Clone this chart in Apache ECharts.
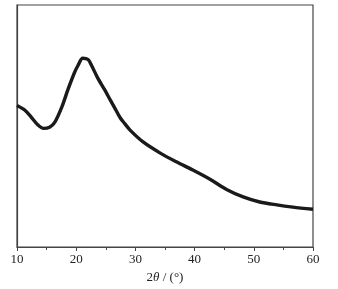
<!DOCTYPE html>
<html><head><meta charset="utf-8">
<script src="https://cdn.jsdelivr.net/npm/echarts@6/dist/echarts.min.js"></script>
<style>html,body{margin:0;padding:0;background:#fff}#c{width:338px;height:289px}</style>
</head><body><div id="c"></div>
<script>
const twoTheta = [10,11.3,12.4,13.5,14.5,15.5,16.4,17.6,18.6,19.7,20.3,21.1,22.0,22.6,23.6,24.8,25.7,26.5,27.4,28.2,29.1,31.3,34.2,37,39.7,42.6,45.4,48.2,51,53.9,56.6,60];
const intensity = [58.5,56.6,53.7,50.5,49,49.5,51.6,58,65,72,75,78,77.5,75,70,65,61,57.5,53.5,51,48.3,43.4,38.8,35.1,31.8,28,23.8,20.7,18.6,17.4,16.5,15.6];
const xTicks = [10,20,30,40,50,60];

const chart = echarts.init(document.getElementById('c'));
chart.setOption({
  animation:false,
  grid:{left:17,right:25,top:5,bottom:42,show:true,borderColor:'#444',borderWidth:1.2,backgroundColor:'transparent'},
  xAxis:{type:'value',min:10,max:60,interval:10,
    name:'{n|2}{t|θ}{n| / (°)}',nameLocation:'middle',nameGap:20,
    nameTextStyle:{rich:{n:{fontFamily:'Liberation Serif',fontSize:13,color:'#222'},t:{fontFamily:'Liberation Serif',fontStyle:'italic',fontSize:13,color:'#222'}}},
    axisLine:{lineStyle:{color:'#444',width:1.2}},
    axisTick:{show:true,inside:false,length:4,lineStyle:{color:'#444'}},
    minorTick:{show:true,splitNumber:2,length:3,lineStyle:{color:'#444'}},
    axisLabel:{fontFamily:'Liberation Serif',fontSize:13,color:'#222',margin:6,
      formatter:v=>xTicks.includes(v)?String(v):''},
    splitLine:{show:false}},
  yAxis:{type:'value',min:0,max:100,axisLabel:{show:false},axisTick:{show:false},splitLine:{show:false},
    axisLine:{show:true,lineStyle:{color:'#444',width:1.2}}},
  series:[{type:'line',data:twoTheta.map((x,i)=>[x,intensity[i]]),smooth:0.3,showSymbol:false,
    lineStyle:{color:'#1a1a1a',width:3.4}}]
});
</script></body></html>
